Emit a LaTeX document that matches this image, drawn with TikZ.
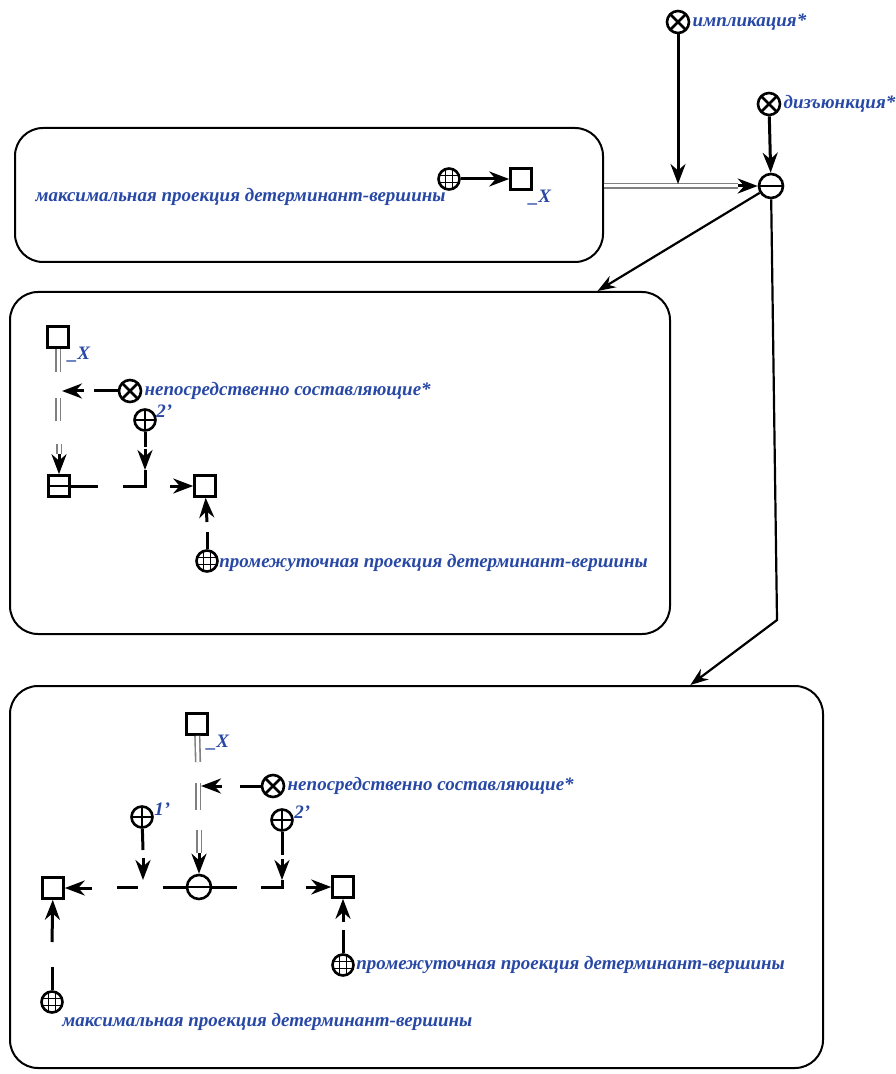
\documentclass[tikz,border=0pt]{standalone}
\usepackage{fontspec}
\setmainfont{Liberation Serif}
\usepackage{xcolor}
\usepackage{tikz}
\usetikzlibrary{arrows.meta}

\definecolor{scblue}{RGB}{40,72,165}

\begin{document}
\begin{tikzpicture}[x=0.5pt, y=-0.5pt,
    sq/.style={draw, line width=1.3pt, minimum size=10.5pt, inner sep=0pt},
    sqh/.style={sq, path picture={\draw[line width=1.3pt] (path picture bounding box.west) -- (path picture bounding box.east);}},
    rel/.style={circle, draw, line width=1.3pt, minimum size=11pt, inner sep=0pt,
        path picture={\draw[line width=1.3pt] (path picture bounding box.north west) -- (path picture bounding box.south east)
            (path picture bounding box.south west) -- (path picture bounding box.north east);}},
    plus/.style={circle, draw, line width=1.3pt, minimum size=10.5pt, inner sep=0pt,
        path picture={\draw[line width=1.3pt] (path picture bounding box.north) -- (path picture bounding box.south)
            (path picture bounding box.west) -- (path picture bounding box.east);}},
    minus/.style={circle, draw, line width=1.3pt, minimum size=12pt, inner sep=0pt,
        path picture={\draw[line width=1.3pt] (path picture bounding box.west) -- (path picture bounding box.east);}},
    glob/.style={circle, draw, line width=1.3pt, minimum size=10.5pt, inner sep=0pt,
        path picture={\draw[line width=0.8pt]
            (path picture bounding box.center) ++(-1.8pt,-6pt) -- ++(0,12pt)
            (path picture bounding box.center) ++(1.8pt,-6pt) -- ++(0,12pt)
            (path picture bounding box.center) ++(-6pt,-1.8pt) -- ++(12pt,0)
            (path picture bounding box.center) ++(-6pt,1.8pt) -- ++(12pt,0);}},
    lbl/.style={font=\fontsize{9.5}{11}\selectfont\bfseries\itshape, text=scblue, inner sep=0pt},
    frame/.style={draw, line width=1pt, rounded corners=14pt, inner sep=0pt},
    arc/.style={line width=1.5pt},
    arr/.style={line width=1.5pt, -{Stealth[length=10pt,width=7.5pt]}},
    barr/.style={line width=1.1pt, -{Stealth[length=9pt,width=6.5pt]}},
    dbl/.style={draw=black!50, double=white, double distance=1.5pt, line width=0.8pt}]
    \useasboundingbox (0,0) rectangle (895,1074);

    % top part
    \node[frame, minimum width=294pt, minimum height=67pt] (sit1) at (309,195) {};
    \node[frame, minimum width=330pt, minimum height=171pt] (sit2) at (340,463) {};
    \node[frame, minimum width=406.5pt, minimum height=191pt] (sit3) at (416.5,877) {};

    \node[rel] (impl) at (678,22) {};
    \node[lbl, anchor=west] (implL) at ([xshift=1pt]impl.east) {импликация*};
    \node[rel] (disj) at (769,104) {};
    \node[lbl, anchor=west] (disjL) at ([xshift=1pt]disj.east) {дизъюнкция*};
    \node[minus] (seq) at (771,186) {};

    \coordinate (s1out) at ([yshift=4.5pt]sit1.east);
    \coordinate (join) at (678,184);
    \coordinate (seqin) at (738,186);
    \draw[dbl] (s1out) -- (seqin);
    \draw[arr] (seqin) -- (seq);
    \draw[arr] (impl) -- (join);
    \draw[arr] (disj) -- (seq);

    \path (sit2.north west) -- (sit2.north east) coordinate[pos=0.889] (in2);
    \path (sit3.north west) -- (sit3.north east) coordinate[pos=0.836] (in3);
    \coordinate (bend) at (777,620);
    \draw[barr] (seq) -- (in2);
    \draw[barr] (seq) -- (bend) -- (in3);

    % situation 1
    \node[glob] (gmax1) at (449,179) {};
    \node[lbl, anchor=east] (tmax1) at (446,197) {максимальная проекция детерминант-вершины};
    \node[sq] (x1) at (521,179) {};
    \node[lbl] (x1L) at (540,198) {\_X};
    \draw[arr] (gmax1) -- (x1);

    % situation 2
    \node[sq] (x2) at (58,337) {};
    \node[lbl] (x2L) at (79,355) {\_X};
    \node[sqh] (cons2) at (59,486) {};
    \coordinate (a1) at (58,372);
    \coordinate (a2) at (58,398);
    \coordinate (a3) at (58,421);
    \coordinate (a4) at (59,444);
    \coordinate (a5) at (59,454);
    \draw[dbl] (x2) -- (a1);
    \draw[dbl] (a2) -- (a3);
    \draw[dbl] (a4) -- (a5);
    \draw[arr] (a5) -- (cons2);

    \node[rel] (nc2) at (130,391) {};
    \node[lbl, anchor=west] (nc2L) at ([xshift=1pt]nc2.east) {непосредственно составляющие*};
    \coordinate (b1) at (94,391);
    \coordinate (b2) at (84,391);
    \coordinate (b3) at (62,391);
    \draw[arc] (nc2) -- (b1);
    \draw[arr] (b2) -- (b3);

    \node[plus] (p2) at (145,420) {};
    \node[lbl, anchor=west] (p2L) at (156,411) {2\char"27};
    \coordinate (c1) at (145,447);
    \coordinate (c2) at (145,449);
    \coordinate (c3) at (145,470);
    \coordinate (c4) at (145,486);
    \coordinate (c5) at (123,486);
    \draw[arc] (p2) -- (c1);
    \draw[arr] (c2) -- (c3);
    \draw[arc] (c3) -- (c4) -- (c5);

    \node[sq] (y2) at (205,486) {};
    \coordinate (d1) at (98,486);
    \coordinate (d2) at (170,486);
    \draw[arc] (cons2) -- (d1);
    \draw[arr] (d2) -- (y2);

    \node[glob] (gmid2) at (207,561) {};
    \node[lbl, anchor=west] (gmid2L) at (219,563) {промежуточная проекция детерминант-вершины};
    \coordinate (e1) at (207,532);
    \coordinate (e2) at (207,522);
    \draw[arc] (gmid2) -- (e1);
    \draw[arr] (e2) -- (y2);

    % situation 3
    \node[sq] (x3) at (197,724) {};
    \node[lbl] (x3L) at (218,743) {\_X};
    \node[minus] (seq3) at (199,887) {};
    \coordinate (f1) at (198,762);
    \coordinate (f2) at (198,783);
    \coordinate (f3) at (198,810);
    \coordinate (f4) at (199,830);
    \coordinate (f5) at (199,853);
    \draw[dbl] (x3) -- (f1);
    \draw[dbl] (f2) -- (f3);
    \draw[dbl] (f4) -- (f5);
    \draw[arr] (f5) -- (seq3);

    \node[rel] (nc3) at (273,786) {};
    \node[lbl, anchor=west] (nc3L) at ([xshift=1pt]nc3.east) {непосредственно составляющие*};
    \coordinate (g1) at (240,786);
    \coordinate (g2) at (222,786);
    \coordinate (g3) at (201,786);
    \draw[arc] (nc3) -- (g1);
    \draw[arr] (g2) -- (g3);

    \node[plus] (p1) at (142,817) {};
    \node[lbl, anchor=west] (p1L) at (154,809) {1\char"27};
    \coordinate (h1) at (143,850);
    \coordinate (h2) at (143,858);
    \coordinate (h3) at (143,880);
    \draw[arc] (p1) -- (h1);
    \draw[arr] (h2) -- (h3);

    \node[sq] (xl3) at (53,888) {};
    \coordinate (k1) at (163,887);
    \coordinate (k2) at (117,887);
    \coordinate (k3) at (138,887);
    \coordinate (k4) at (92,888);
    \draw[arc] (seq3) -- (k1);
    \draw[arc] (k2) -- (k3);
    \draw[arr] (k4) -- (xl3);

    \node[plus] (p3) at (282,820) {};
    \node[lbl, anchor=west] (p3L) at (294,812) {2\char"27};
    \node[sq] (xr3) at (343,887) {};
    \coordinate (m1) at (237,887);
    \coordinate (m2) at (306,887);
    \coordinate (n1) at (282,855);
    \coordinate (n2) at (282,859);
    \coordinate (n3) at (282,880);
    \coordinate (n4) at (282,887);
    \coordinate (n5) at (261,887);
    \draw[arc] (seq3) -- (m1);
    \draw[arc] (p3) -- (n1);
    \draw[arr] (n2) -- (n3);
    \draw[arc] (n3) -- (n4) -- (n5);
    \draw[arr] (m2) -- (xr3);

    \node[glob] (gmid3) at (343,965) {};
    \node[lbl, anchor=west] (gmid3L) at (356,965) {промежуточная проекция детерминант-вершины};
    \coordinate (q1) at (343,930);
    \coordinate (q2) at (343,922);
    \draw[arc] (gmid3) -- (q1);
    \draw[arr] (q2) -- (xr3);

    \node[glob] (gmax3) at (52,1002) {};
    \node[lbl, anchor=west] (gmax3L) at (62,1022) {максимальная проекция детерминант-вершины};
    \coordinate (r1) at (52,967);
    \coordinate (r2) at (52,942);
    \draw[arc] (gmax3) -- (r1);
    \draw[arr] (r2) -- (xl3);
\end{tikzpicture}
\end{document}
